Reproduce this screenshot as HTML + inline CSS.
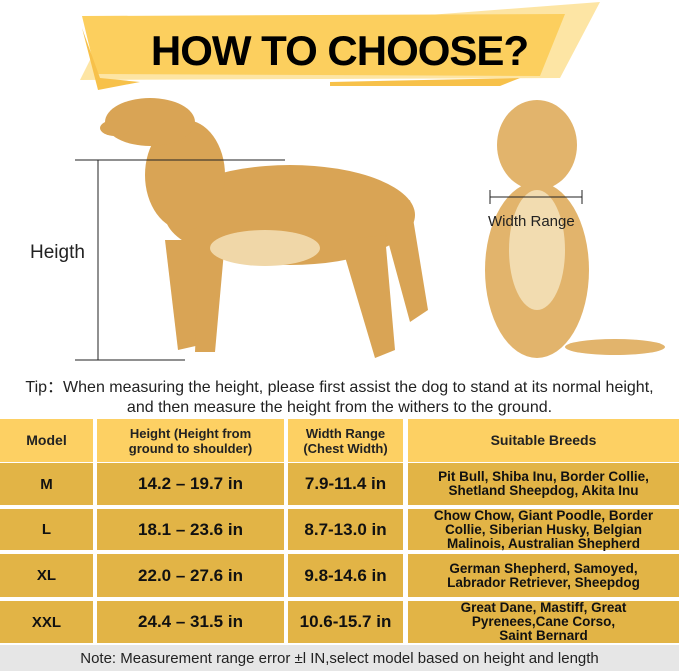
<!DOCTYPE html>
<html><head><style>
body{margin:0;width:679px;height:671px;overflow:hidden;background:#fff;font-family:"Liberation Sans",sans-serif;position:relative}
.a{position:absolute}
.c{position:absolute;display:flex;align-items:center;justify-content:center;text-align:center;color:#111}
.h{background:#fdd063;font-size:13px;line-height:15px;font-weight:bold;color:#222}
.r{background:#e2b446;font-size:17px;font-weight:bold}
.b{font-size:13.5px;font-weight:bold;line-height:14px}
</style></head><body>
<svg class="a" style="left:0;top:0" width="679" height="380">
<polygon points="100,40 600,2 560,78 80,80" fill="#fcd367" opacity="0.6"/>
<polygon points="82,16 565,14 540,76 96,74" fill="#fccf5e"/>
<polygon points="82,28 98,90 140,82 100,78" fill="#f7c14a"/>
<polygon points="330,82 520,78 500,86 330,86" fill="#f7c14a"/>
<!-- standing dog -->
<g fill="#d9a455">
<ellipse cx="290" cy="215" rx="125" ry="50"/>
<ellipse cx="185" cy="175" rx="40" ry="55"/>
<ellipse cx="150" cy="122" rx="45" ry="24"/>
<ellipse cx="115" cy="128" rx="15" ry="8"/>
<polygon points="165,240 200,240 200,345 178,350"/>
<polygon points="200,240 225,240 215,352 195,352"/>
<polygon points="340,240 385,235 395,350 375,358"/>
<polygon points="385,230 410,200 428,310 410,322"/>
</g>
<ellipse cx="265" cy="248" rx="55" ry="18" fill="#f0d7a8"/>
<line x1="75" y1="160" x2="285" y2="160" stroke="#222"/>
<line x1="75" y1="360" x2="185" y2="360" stroke="#222"/>
<line x1="98" y1="160" x2="98" y2="360" stroke="#222"/>
<!-- sitting dog -->
<g fill="#e2b46c">
<ellipse cx="537" cy="145" rx="40" ry="45"/>
<ellipse cx="537" cy="270" rx="52" ry="88"/>
<ellipse cx="615" cy="347" rx="50" ry="8"/>
</g>
<ellipse cx="537" cy="250" rx="28" ry="60" fill="#f2dcb0"/>
<line x1="490" y1="197" x2="582" y2="197" stroke="#222"/>
<line x1="490" y1="190" x2="490" y2="204" stroke="#222"/>
<line x1="582" y1="190" x2="582" y2="204" stroke="#222"/>
</svg>
<div class="a" style="left:0;width:679px;top:27px;text-align:center;font-size:42px;font-weight:900;letter-spacing:-1px">HOW TO CHOOSE?</div>
<div class="a" style="left:30px;top:242px;font-size:19px;color:#222">Heigth</div>
<div class="a" style="left:488px;top:213px;font-size:15px;color:#222">Width Range</div>
<div class="a" style="left:0;width:679px;top:378px;text-align:center;font-size:16px;line-height:20px;color:#222">Tip：When measuring the height, please first assist the dog to stand at its normal height,<br>and then measure the height from the withers to the ground.</div>

<div class="c h" style="left:0;top:419px;width:93px;height:43px;font-size:14px">Model</div>
<div class="c h" style="left:97px;top:419px;width:187px;height:43px">Height (Height from<br>ground to shoulder)</div>
<div class="c h" style="left:288px;top:419px;width:115px;height:43px">Width Range<br>(Chest Width)</div>
<div class="c h" style="left:408px;top:419px;width:271px;height:43px;font-size:14px">Suitable Breeds</div>

<div class="c r" style="left:0;top:463px;width:93px;height:42px;font-size:15px">M</div>
<div class="c r" style="left:97px;top:463px;width:187px;height:42px">14.2 – 19.7 in</div>
<div class="c r" style="left:288px;top:463px;width:115px;height:42px">7.9-11.4 in</div>
<div class="c r b" style="left:408px;top:463px;width:271px;height:42px">Pit Bull, Shiba Inu, Border Collie,<br>Shetland Sheepdog, Akita Inu</div>

<div class="c r" style="left:0;top:509px;width:93px;height:41px;font-size:15px">L</div>
<div class="c r" style="left:97px;top:509px;width:187px;height:41px">18.1 – 23.6 in</div>
<div class="c r" style="left:288px;top:509px;width:115px;height:41px">8.7-13.0 in</div>
<div class="c r b" style="left:408px;top:509px;width:271px;height:41px">Chow Chow, Giant Poodle, Border<br>Collie, Siberian Husky, Belgian<br>Malinois, Australian Shepherd</div>

<div class="c r" style="left:0;top:554px;width:93px;height:43px;font-size:15px">XL</div>
<div class="c r" style="left:97px;top:554px;width:187px;height:43px">22.0 – 27.6 in</div>
<div class="c r" style="left:288px;top:554px;width:115px;height:43px">9.8-14.6 in</div>
<div class="c r b" style="left:408px;top:554px;width:271px;height:43px">German Shepherd, Samoyed,<br>Labrador Retriever, Sheepdog</div>

<div class="c r" style="left:0;top:601px;width:93px;height:42px;font-size:15px">XXL</div>
<div class="c r" style="left:97px;top:601px;width:187px;height:42px">24.4 – 31.5 in</div>
<div class="c r" style="left:288px;top:601px;width:115px;height:42px">10.6-15.7 in</div>
<div class="c r b" style="left:408px;top:601px;width:271px;height:42px">Great Dane, Mastiff, Great<br>Pyrenees,Cane Corso,<br>Saint Bernard</div>

<div class="c" style="left:0;top:645px;width:679px;height:26px;background:#e6e6e6;font-size:15px;color:#222">Note: Measurement range error ±l IN,select model based on height and length</div>
</body></html>
